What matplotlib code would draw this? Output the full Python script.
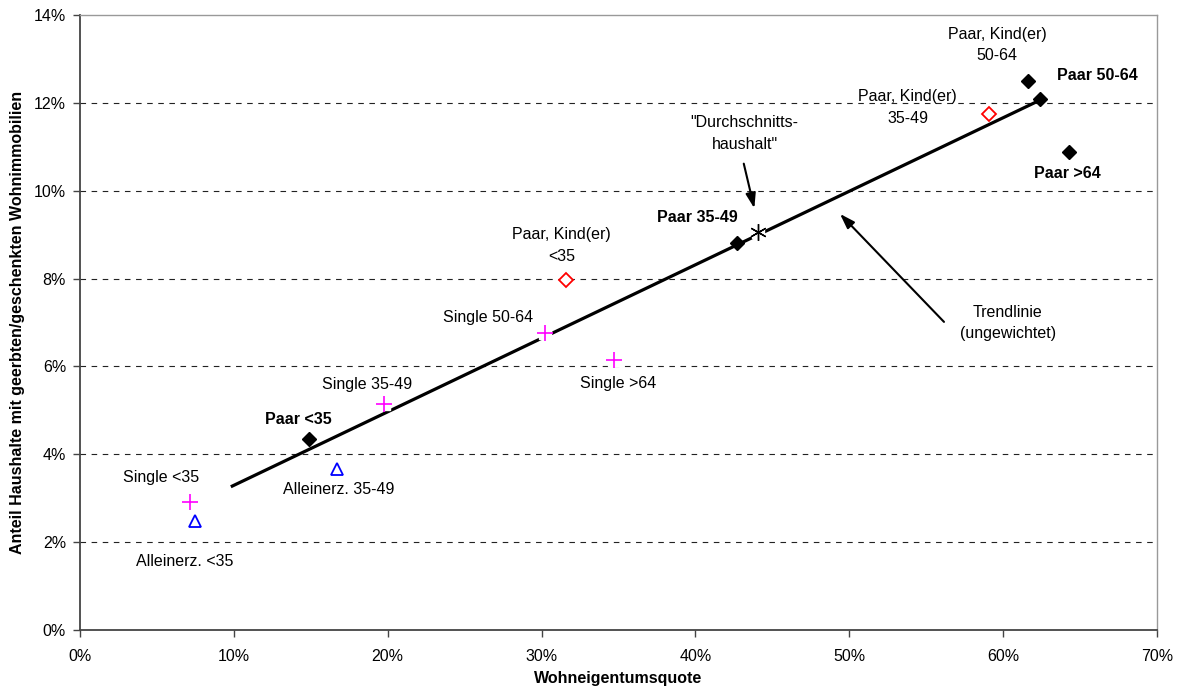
import numpy as np
import matplotlib
matplotlib.use("Agg")
import matplotlib.pyplot as plt
from matplotlib.ticker import FuncFormatter

plt.rcParams['font.family'] = ['Liberation Sans', 'DejaVu Sans']

# Wohneigentumsquote (x) und Anteil mit geerbten/geschenkten Wohnimmobilien (y), in %
paar_x = [14.9, 42.7, 61.6, 62.4, 64.3]
paar_y = [4.35, 8.81, 12.5, 12.09, 10.88]
kind_x = [31.6, 59.1]
kind_y = [7.97, 11.75]
single_x = [7.15, 19.75, 30.2, 34.7]
single_y = [2.91, 5.14, 6.76, 6.15]
allein_x = [7.47, 16.7]
allein_y = [2.48, 3.66]
avg_x = [44.05]
avg_y = [9.06]

# Trendlinie (ungewichtet)
trend_x = [9.9, 62.4]
trend_slope = 0.1674
trend_icept = 1.62

fig = plt.figure(figsize=(11.81, 6.88), dpi=100)
ax = fig.add_axes([0.0677, 0.0843, 0.912, 0.8937])

ax.set_xlim(0, 70)
ax.set_ylim(0, 14)
ax.set_xticks(np.arange(0, 71, 10))
ax.set_yticks(np.arange(0, 15, 2))
pct = FuncFormatter(lambda v, p: f"{v:.0f}%")
ax.xaxis.set_major_formatter(pct)
ax.yaxis.set_major_formatter(pct)
ax.tick_params(labelsize=11.5, length=5, width=1, color='#444444')
ax.tick_params(axis='x', pad=9)
ax.tick_params(axis='y', pad=5)

for y in range(2, 13, 2):
    ax.axhline(y, color='#222222', lw=0.8, ls=(0, (5, 5)), zorder=0)

for s in ['left', 'bottom']:
    ax.spines[s].set_color('#444444')
    ax.spines[s].set_linewidth(1.3)
for s in ['top', 'right']:
    ax.spines[s].set_color('#999999')
    ax.spines[s].set_linewidth(1)

tx = np.array(trend_x)
ax.plot(tx, trend_slope * tx + trend_icept, color='black', lw=2.3, zorder=2)

# white halo so the line breaks around the open markers
ax.plot(single_x, single_y, ls='none', marker='s', ms=8, mfc='white', mec='white', zorder=3)
ax.plot(avg_x, avg_y, ls='none', marker='s', ms=8, mfc='white', mec='white', zorder=3)

ax.plot(paar_x, paar_y, ls='none', marker='D', ms=7.5, mfc='black', mec='black', zorder=4)
ax.plot(kind_x, kind_y, ls='none', marker='D', ms=7, mfc='white', mec='red', mew=1.3, zorder=4)
ax.plot(single_x, single_y, ls='none', marker='+', ms=11, mec='magenta', mew=1.2, zorder=4)
ax.plot(allein_x, allein_y, ls='none', marker='^', ms=9, mfc='none', mec='blue', mew=1.3, zorder=4)
ax.plot(avg_x, avg_y, ls='none', marker=(6, 2, 0), ms=12, mec='black', mew=1.0, zorder=4)

lbl = dict(fontsize=11.5, ha='center', va='center', linespacing=1.55)
ax.text(59.6, 13.32, "Paar, Kind(er)\n50-64", **lbl)
ax.text(66.1, 12.63, "Paar 50-64", fontweight='bold', **lbl)
ax.text(53.8, 11.9, "Paar, Kind(er)\n35-49", **lbl)
ax.text(64.2, 10.4, "Paar >64", fontweight='bold', **lbl)
ax.text(43.2, 11.31, "\"Durchschnitts-\nhaushalt\"", **lbl)
ax.text(40.1, 9.4, "Paar 35-49", fontweight='bold', **lbl)
ax.text(31.3, 8.76, "Paar, Kind(er)\n<35", **lbl)
ax.text(26.5, 7.12, "Single 50-64", **lbl)
ax.text(35.0, 5.62, "Single >64", **lbl)
ax.text(60.3, 6.99, "Trendlinie\n(ungewichtet)", **lbl)
ax.text(18.65, 5.58, "Single 35-49", **lbl)
ax.text(14.17, 4.80, "Paar <35", fontweight='bold', **lbl)
ax.text(5.26, 3.48, "Single <35", **lbl)
ax.text(16.83, 3.19, "Alleinerz. 35-49", **lbl)
ax.text(6.82, 1.57, "Alleinerz. <35", **lbl)

arrow = dict(arrowstyle='-|>,head_length=0.9,head_width=0.3', color='black', lw=1.5)
ax.annotate("", xy=(43.87, 9.54), xytext=(43.1, 10.68), arrowprops=arrow)
ax.annotate("", xy=(49.27, 9.52), xytext=(56.28, 6.97), arrowprops=arrow)

ax.set_xlabel("Wohneigentumsquote", fontsize=11.5, fontweight='bold', labelpad=5)
ax.set_ylabel("Anteil Haushalte mit geerbten/geschenkten Wohnimmobilien",
              fontsize=11.5, fontweight='bold', labelpad=6)

fig.savefig("out.png", dpi=100)
